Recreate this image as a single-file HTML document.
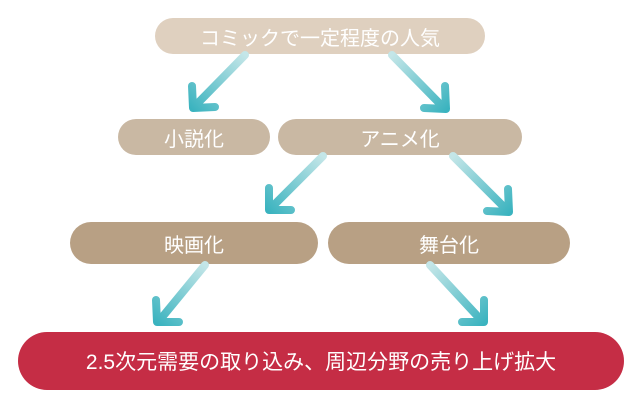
<!DOCTYPE html>
<html><head><meta charset="utf-8"><style>
body{margin:0;width:640px;height:409px;background:#fff;position:relative;overflow:hidden;font-family:"Liberation Sans","Noto Sans CJK JP",sans-serif;}
.b{position:absolute;display:flex;align-items:center;justify-content:center;color:#fff;border-radius:20px;}
svg{position:absolute;left:0;top:0}
</style></head><body>
<div class="b" style="left:155px;top:18px;width:330px;height:36px;background:#dfd0bf;font-size:20px;border-radius:18px">コミックで一定程度の人気</div>
<div class="b" style="left:118px;top:119px;width:152px;height:36px;background:#c9b8a3;font-size:20px;border-radius:18px">小説化</div>
<div class="b" style="left:278px;top:119px;width:244px;height:36px;background:#c9b8a3;font-size:20px;border-radius:18px">アニメ化</div>
<div class="b" style="left:70px;top:222px;width:248px;height:42px;background:#b8a084;font-size:20px;border-radius:21px">映画化</div>
<div class="b" style="left:328px;top:222px;width:242px;height:42px;background:#b8a084;font-size:20px;border-radius:21px">舞台化</div>
<div class="b" style="left:18px;top:332px;width:606px;height:58px;background:#c52d45;font-size:21px;border-radius:29px">2.5次元需要の取り込み、周辺分野の売り上げ拡大</div>
<svg width="640" height="409">
<defs>
<linearGradient id="g1" gradientUnits="userSpaceOnUse" x1="245" y1="55" x2="192" y2="110"><stop offset="0" stop-color="#c4e6e8"/><stop offset="1" stop-color="#3ab3bf"/></linearGradient>
<linearGradient id="g2" gradientUnits="userSpaceOnUse" x1="392" y1="55" x2="447" y2="110"><stop offset="0" stop-color="#c4e6e8"/><stop offset="1" stop-color="#3ab3bf"/></linearGradient>
<linearGradient id="g3" gradientUnits="userSpaceOnUse" x1="323" y1="156" x2="268" y2="212"><stop offset="0" stop-color="#c4e6e8"/><stop offset="1" stop-color="#3ab3bf"/></linearGradient>
<linearGradient id="g4" gradientUnits="userSpaceOnUse" x1="453" y1="156" x2="510" y2="213"><stop offset="0" stop-color="#c4e6e8"/><stop offset="1" stop-color="#3ab3bf"/></linearGradient>
<linearGradient id="g5" gradientUnits="userSpaceOnUse" x1="205" y1="265" x2="157" y2="324"><stop offset="0" stop-color="#c4e6e8"/><stop offset="1" stop-color="#3ab3bf"/></linearGradient>
<linearGradient id="g6" gradientUnits="userSpaceOnUse" x1="430" y1="265" x2="484" y2="324"><stop offset="0" stop-color="#c4e6e8"/><stop offset="1" stop-color="#3ab3bf"/></linearGradient>
</defs>
<g fill="none" stroke-width="8" stroke-linecap="round" stroke-linejoin="round">
<path stroke="url(#g1)" d="M245 55 L194 107 M192 86 L193 108 L215 107"/>
<path stroke="url(#g2)" d="M392 55 L444 108 M445 86 L446 109 L424 108"/>
<path stroke="url(#g3)" d="M323 156 L270 209 M269 188 L269 210 L291 210"/>
<path stroke="url(#g4)" d="M453 156 L507 210 M508 189 L509 212 L487 211"/>
<path stroke="url(#g5)" d="M205 265 L159 321 M156 300 L157 322 L179 322"/>
<path stroke="url(#g6)" d="M430 265 L482 321 M484 300 L484 322 L462 322"/>
</g>
</svg>
</body></html>
